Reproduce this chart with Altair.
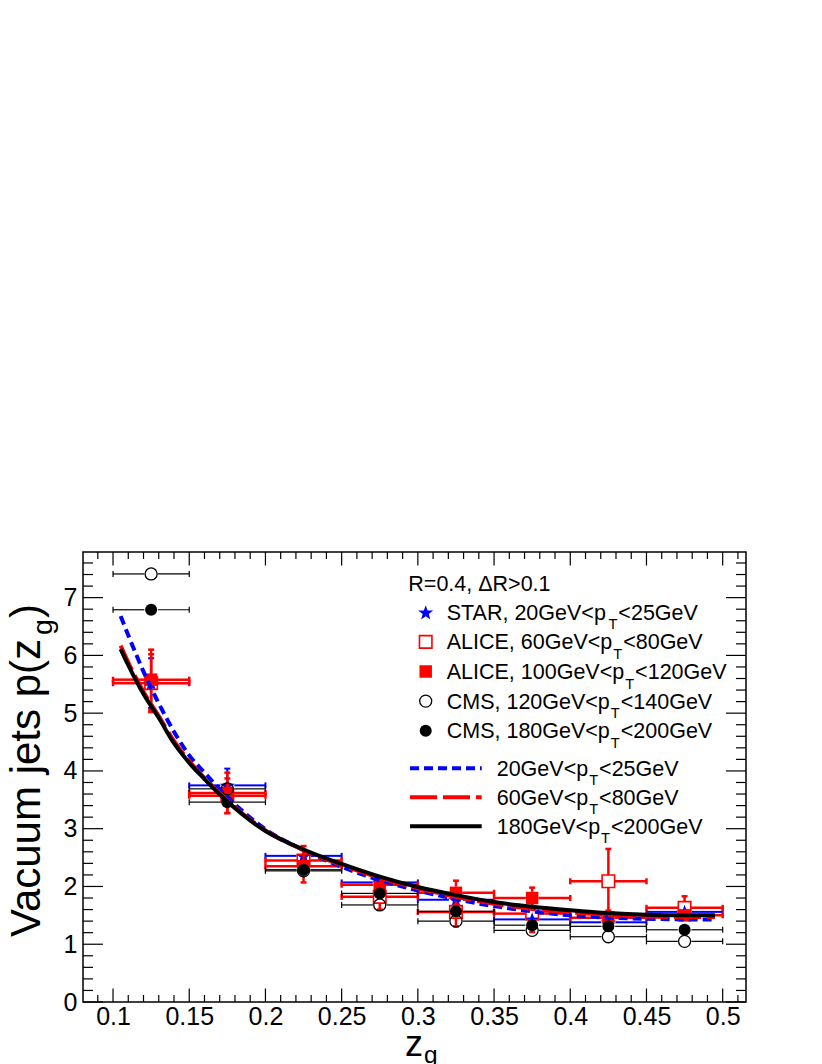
import math
import altair as alt
import pandas as pd

# ---------------- data ----------------
bin_lo = [0.10, 0.15, 0.20, 0.25, 0.30, 0.35, 0.40, 0.45]
bin_hi = [0.15, 0.20, 0.25, 0.30, 0.35, 0.40, 0.45, 0.50]

star_y = [5.52, 3.75, 2.53, 2.07, 1.77, 1.43, 1.38, 1.56]
star_err = [0.43, 0.29, 0.12, 0.10, 0.09, 0.08, 0.08, 0.08]

alice60_y = [5.52, 3.57, 2.45, 1.82, 1.56, 1.53, 2.09, 1.63]
alice60_err = [0.50, 0.30, 0.25, 0.22, 0.25, 0.32, 0.56, 0.20]

alice100_y = [5.58, 3.62, 2.35, 2.03, 1.89, 1.80, 1.46, 1.50]
alice100_err = [0.52, 0.35, 0.28, 0.12, 0.21, 0.18, 0.12, 0.10]

cms120_y = [7.41, 3.69, 2.27, 1.68, 1.40, 1.24, 1.13, 1.05]
cms120_err = [0.0, 0.0, 0.0, 0.0, 0.0, 0.0, 0.0, 0.0]

cms180_y = [6.79, 3.46, 2.29, 1.88, 1.57, 1.33, 1.31, 1.25]
cms180_err = [0.0, 0.0, 0.0, 0.0, 0.0, 0.0, 0.0, 0.0]

curve_z = [0.105, 0.11, 0.12, 0.13, 0.14, 0.15, 0.16, 0.175, 0.20, 0.225, 0.25,
           0.275, 0.30, 0.325, 0.35, 0.375, 0.40, 0.425, 0.45, 0.475, 0.495]
curve_20_25 = [6.68, 6.35, 5.72, 5.17, 4.68, 4.27, 3.97, 3.55, 2.99, 2.63, 2.34,
               2.11, 1.93, 1.78, 1.66, 1.57, 1.50, 1.46, 1.44, 1.43, 1.43]
curve_60_80 = [6.17, 5.88, 5.37, 4.95, 4.52, 4.17, 3.88, 3.49, 2.97, 2.63, 2.37,
               2.15, 1.97, 1.82, 1.70, 1.61, 1.55, 1.51, 1.48, 1.47, 1.47]
curve_180_200 = [6.11, 5.83, 5.33, 4.92, 4.48, 4.14, 3.86, 3.47, 2.96, 2.64, 2.39,
                 2.17, 1.99, 1.85, 1.73, 1.65, 1.59, 1.54, 1.51, 1.50, 1.50]

x_major = [0.1, 0.15, 0.2, 0.25, 0.3, 0.35, 0.4, 0.45, 0.5]
y_major = [0, 1, 2, 3, 4, 5, 6, 7]

legend_header = "R=0.4, \u0394R>0.1"
legend_points = [
    ["STAR, 20GeV<p", "T", "<25GeV"],
    ["ALICE, 60GeV<p", "T", "<80GeV"],
    ["ALICE, 100GeV<p", "T", "<120GeV"],
    ["CMS, 120GeV<p", "T", "<140GeV"],
    ["CMS, 180GeV<p", "T", "<200GeV"],
]
legend_lines = [
    ["20GeV<p", "T", "<25GeV"],
    ["60GeV<p", "T", "<80GeV"],
    ["180GeV<p", "T", "<200GeV"],
]
y_title = ["Vacuum jets p(z", "g", ")"]
x_title = ["z", "g"]

# ---------------- layout / style ----------------
X0, X1 = 0.0803, 0.5153
Y0, Y1 = 0.0, 7.79
W, H = 663, 450
PAD_L, PAD_T = 75, 544
PLOT_LEFT, PLOT_TOP = 8 + PAD_L, 8 + PAD_T
FONT = "Liberation Sans"
TICK_FS = 25
LEG_FS = 21.5
TITLE_FS = 36
YTITLE_FS = 42
SUB = 0.68

def dx(px):
    return X0 + (px - PLOT_LEFT) / W * (X1 - X0)

def dy(py):
    return Y1 - (py - PLOT_TOP) / H * (Y1 - Y0)

ARIAL = {' ': 278, ',': 278, '.': 278, '(': 333, ')': 333, '<': 584, '=': 584,
         '>': 584, 'A': 667, 'C': 722, 'E': 667, 'G': 778, 'I': 278, 'L': 556,
         'M': 833, 'R': 722, 'S': 667, 'T': 611, 'V': 667, 'a': 556, 'c': 500,
         'e': 556, 'g': 556, 'j': 222, 'm': 833, 'p': 556, 's': 500, 't': 278,
         'u': 556, 'z': 500, '\u0394': 668}

def tw(s, fs):
    return sum(ARIAL.get(c, 556) for c in s) * fs / 1000.0

xscale = alt.Scale(domain=[X0, X1], nice=False, zero=False)
yscale = alt.Scale(domain=[Y0, Y1], nice=False, zero=False)
xaxis = alt.Axis(values=x_major, format=".2~f", ticks=False, tickSize=0, domain=False,
                 grid=False, labelFontSize=TICK_FS, labelFont=FONT, labelColor="black",
                 labelPadding=2, labelFlush=False, title=None)
yaxis = alt.Axis(values=y_major, format="d", ticks=False, tickSize=0, domain=False,
                 grid=False, labelFontSize=TICK_FS, labelFont=FONT, labelColor="black",
                 labelPadding=6, labelFlush=False, title=None)

def X(f):
    return alt.X(f, type="quantitative", scale=xscale, axis=xaxis)

def Y(f):
    return alt.Y(f, type="quantitative", scale=yscale, axis=yaxis)

# star symbol path
_pts = []
for i in range(10):
    r = 1.0 if i % 2 == 0 else 0.4
    a = -math.pi / 2 + i * math.pi / 5
    _pts.append(f"{r * math.cos(a):.3f},{r * math.sin(a) + 0.095:.3f}")
STAR_PATH = "M" + " L".join(_pts) + " Z"

series = [
    dict(y=star_y, err=star_err, color="#0000ff", shape=STAR_PATH, filled=True,
         size=250, half=7.0, lw=2.0, sw=1.0),
    dict(y=alice60_y, err=alice60_err, color="#ff0000", shape="square", filled=False,
         size=156, half=6.25, lw=2.5, sw=1.6),
    dict(y=alice100_y, err=alice100_err, color="#ff0000", shape="square", filled=True,
         size=156, half=6.25, lw=2.5, sw=1.0),
    dict(y=cms120_y, err=cms120_err, color="#000000", shape="circle", filled=False,
         size=145, half=6.8, lw=1.2, sw=1.3),
    dict(y=cms180_y, err=cms180_err, color="#000000", shape="circle", filled=True,
         size=145, half=6.8, lw=1.2, sw=1.0),
]
leg_rows_y = [612.3, 641.9, 671.5, 701.1, 730.7]
leg_line_y = [768.3, 797.3, 826.3]
LEG_MARK_X = 425.7
LEG_TEXT_X = 446.7
LEG_LINE_X = (410.0, 481.7)
LEG_LINE_TEXT_X = 496.7

layers = []

# ----- inward ticks on all four sides -----
def tick_layer(vals, length, side):
    df = pd.DataFrame({"v": vals})
    m = alt.Chart(df).mark_rule(color="black", strokeWidth=1.2)
    if side == "bottom":
        return m.encode(x=X("v"), y=alt.value(H), y2=alt.value(H - length))
    if side == "top":
        return m.encode(x=X("v"), y=alt.value(0), y2=alt.value(length))
    if side == "left":
        return m.encode(y=Y("v"), x=alt.value(0), x2=alt.value(length))
    return m.encode(y=Y("v"), x=alt.value(W), x2=alt.value(W - length))

x_minor = [round(0.09 + 0.01 * i, 2) for i in range(43)]
x_minor = [v for v in x_minor if X0 <= v <= X1 and round(v * 20, 6) != round(v * 20)]
y_minor = [round(0.2 * i, 1) for i in range(1, 39)]
y_minor = [v for v in y_minor if v != int(v) and v <= Y1]

for side in ("bottom", "top"):
    layers.append(tick_layer(x_major, 13.5, side))
    layers.append(tick_layer(x_minor, 7, side))
for side in ("left", "right"):
    layers.append(tick_layer(y_major, 20, side))
    layers.append(tick_layer(y_minor, 10, side))

# ----- data points with error bars -----
centers = [(a + b) / 2 for a, b in zip(bin_lo, bin_hi)]
for k, s in enumerate(series):
    gx = s["half"] / W * (X1 - X0)
    gy = s["half"] / H * (Y1 - Y0)
    hseg, hcap, vseg, vcap = [], [], [], []
    for lo, hi, c, y, e in zip(bin_lo, bin_hi, centers, s["y"], s["err"]):
        hseg.append({"x": lo, "x2": c - gx, "y": y})
        hseg.append({"x": c + gx, "x2": hi, "y": y})
        hcap.append({"x": lo, "y": y})
        hcap.append({"x": hi, "y": y})
        if e > gy:
            vseg.append({"x": c, "y": y - e, "y2": y - gy})
            vseg.append({"x": c, "y": y + gy, "y2": y + e})
            vcap.append({"x": c, "y": y - e})
            vcap.append({"x": c, "y": y + e})
    col = s["color"]
    layers.append(alt.Chart(pd.DataFrame(hseg)).mark_rule(color=col, strokeWidth=s["lw"])
                  .encode(x=X("x"), x2="x2", y=Y("y")))
    layers.append(alt.Chart(pd.DataFrame(hcap)).mark_tick(color=col, orient="vertical",
                  size=6, thickness=s["lw"], opacity=1).encode(x=X("x"), y=Y("y")))
    if vseg:
        layers.append(alt.Chart(pd.DataFrame(vseg)).mark_rule(color=col, strokeWidth=s["lw"])
                      .encode(x=X("x"), y=Y("y"), y2="y2"))
        layers.append(alt.Chart(pd.DataFrame(vcap)).mark_tick(color=col, orient="horizontal",
                      size=6, thickness=s["lw"], opacity=1).encode(x=X("x"), y=Y("y")))
    pts = pd.DataFrame({"x": centers + [dx(LEG_MARK_X)],
                        "y": list(s["y"]) + [dy(leg_rows_y[k])]})
    layers.append(alt.Chart(pts).mark_point(shape=s["shape"], filled=s["filled"],
                  size=s["size"], color=col, strokeWidth=s["sw"], opacity=1)
                  .encode(x=X("x"), y=Y("y")))

# ----- curves -----
curve_styles = [
    (curve_20_25, "#0000ff", [9, 5]),
    (curve_60_80, "#ff0000", [27, 6]),
    (curve_180_200, "#000000", None),
]
for j, (vals, col, dash) in enumerate(curve_styles):
    df = pd.DataFrame({"z": curve_z, "p": vals})
    kw = dict(color=col, strokeWidth=4, interpolate="monotone", strokeCap="butt")
    if dash:
        kw["strokeDash"] = dash
    layers.append(alt.Chart(df).mark_line(**kw).encode(x=X("z"), y=Y("p")))
    ldf = pd.DataFrame({"x": [dx(LEG_LINE_X[0])], "x2": [dx(LEG_LINE_X[1])],
                        "y": [dy(leg_line_y[j])]})
    rkw = dict(color=col, strokeWidth=4, strokeCap="butt")
    if dash:
        rkw["strokeDash"] = dash
    layers.append(alt.Chart(ldf).mark_rule(**rkw).encode(x=X("x"), x2="x2", y=Y("y")))

# ----- texts (legend, titles) -----
texts = []

def add_pieces(pieces, px, py, fs, gap=1.0):
    x = px
    for i, t in enumerate(pieces):
        if i % 2 == 1:
            f = fs * SUB
            texts.append({"tx": dx(x + gap), "ty": dy(py + 0.45 * fs), "txt": t, "fs": f, "ang": 0})
            x += tw(t, f) + 2 * gap
        else:
            texts.append({"tx": dx(x), "ty": dy(py), "txt": t, "fs": fs, "ang": 0})
            x += tw(t, fs)

texts.append({"tx": dx(408.3), "ty": dy(583.3 + 7.5), "txt": legend_header, "fs": LEG_FS, "ang": 0})
for k, pieces in enumerate(legend_points):
    add_pieces(pieces, LEG_TEXT_X, leg_rows_y[k] + 7.5, LEG_FS)
for j, pieces in enumerate(legend_lines):
    add_pieces(pieces, LEG_LINE_TEXT_X, leg_line_y[j] + 7.5, LEG_FS)

# x title
zx, zy = 405.0, 1056.0
texts.append({"tx": dx(zx), "ty": dy(zy), "txt": x_title[0], "fs": TITLE_FS, "ang": 0})
texts.append({"tx": dx(zx + tw(x_title[0], TITLE_FS) + 1), "ty": dy(zy + 7),
              "txt": x_title[1], "fs": TITLE_FS * SUB, "ang": 0})

# y title (rotated, reading upward)
bx, by = 40.0, 937.0
w1 = tw(y_title[0], YTITLE_FS)
wg = tw(y_title[1], YTITLE_FS * SUB)
texts.append({"tx": dx(bx), "ty": dy(by), "txt": y_title[0], "fs": YTITLE_FS, "ang": 270})
texts.append({"tx": dx(bx + 0.28 * YTITLE_FS), "ty": dy(by - w1 - 1), "txt": y_title[1],
              "fs": YTITLE_FS * SUB, "ang": 270})
texts.append({"tx": dx(bx), "ty": dy(by - w1 - wg - 2), "txt": y_title[2], "fs": YTITLE_FS, "ang": 270})

layers.append(alt.Chart(pd.DataFrame(texts)).mark_text(align="left", baseline="alphabetic",
              font=FONT, color="black").encode(
    x=X("tx"), y=Y("ty"), text="txt:N",
    size=alt.Size("fs:Q", scale=None), angle=alt.Angle("ang:Q", scale=None)))

chart = alt.layer(*layers).properties(
    width=W, height=H,
    padding={"left": PAD_L, "top": PAD_T, "right": 60, "bottom": 62},
    autosize=alt.AutoSizeParams(type="none"),
    background="white",
).configure_view(stroke="black", strokeWidth=1.5)

chart.save("out.html", embed_options={"renderer": "svg", "actions": False})
